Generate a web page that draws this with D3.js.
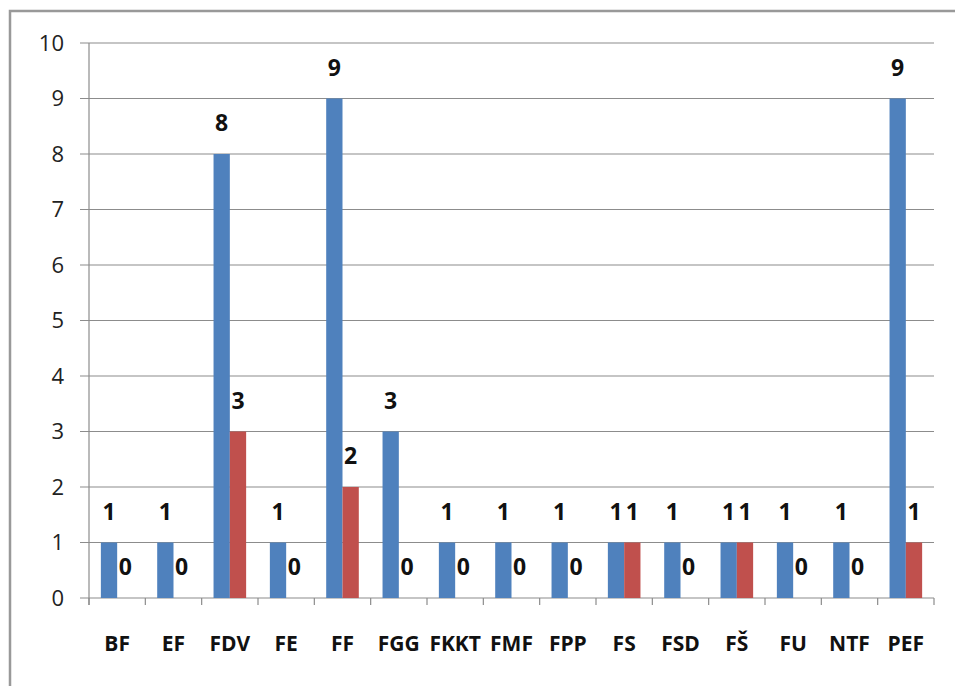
<!DOCTYPE html>
<html><head><meta charset="utf-8">
<script src="https://cdn.jsdelivr.net/npm/d3@7"></script>
<style>body{margin:0;background:#fff}</style>
</head><body>
<svg id="c" width="955" height="686"></svg>
<script>
const categories = ["BF","EF","FDV","FE","FF","FGG","FKKT","FMF","FPP","FS","FSD","FŠ","FU","NTF","PEF"];
const seriesA = [1,1,8,1,9,3,1,1,1,1,1,1,1,1,9];
const seriesB = [0,0,3,0,2,0,0,0,0,1,0,1,0,0,1];
const yTicks = [0,1,2,3,4,5,6,7,8,9,10];
const colors = ["#4F81BD","#C0504D"];

const svg = d3.select("#c");
const font = "'Open Sans', 'Liberation Sans', sans-serif";
// frame
svg.append("path").attr("d","M10,686 V11 H955").attr("fill","none").attr("stroke","#999").attr("stroke-width",2.5);

const m = {l:89, r:934, t:43, b:598};
const x = d3.scaleBand().domain(categories).range([m.l, m.r]).paddingInner(0).paddingOuter(0);
const y = d3.scaleLinear().domain([0,10]).range([m.b, m.t]);
const bw = 16.3;

// gridlines
svg.append("g").selectAll("line").data(yTicks).join("line")
  .attr("x1", m.l-9).attr("x2", m.r).attr("y1", d=>y(d)).attr("y2", d=>y(d))
  .attr("stroke","#8c8c8c").attr("stroke-width",1.2);
// y axis line
svg.append("line").attr("x1",m.l).attr("x2",m.l).attr("y1",m.t).attr("y2",m.b+7).attr("stroke","#8c8c8c").attr("stroke-width",1.2);
// x ticks
const bounds = categories.map(c=>x(c)).concat([m.r]);
svg.append("g").selectAll("line").data(bounds).join("line")
  .attr("x1",d=>d).attr("x2",d=>d).attr("y1",m.b).attr("y2",m.b+7)
  .attr("stroke","#8c8c8c").attr("stroke-width",1.2);
// y labels
svg.append("g").selectAll("text").data(yTicks).join("text")
  .attr("x", 64).attr("y", d=>y(d)).attr("dy","0.36em").attr("text-anchor","end")
  .attr("font-family",font).attr("font-size",22).attr("fill","#222").text(d=>d);
// x labels
svg.append("g").selectAll("text").data(categories).join("text")
  .attr("x", d=>x(d)+x.bandwidth()/2).attr("y", 651).attr("text-anchor","middle")
  .attr("font-family",font).attr("font-size",21).attr("font-weight","bold").attr("fill","#111").text(d=>d);

const series = [seriesA, seriesB];
series.forEach((s, si)=>{
  const g = svg.append("g");
  const off = (x.bandwidth()/2) - bw + si*bw;
  g.selectAll("rect").data(s).join("rect")
    .attr("x",(d,i)=>x(categories[i])+off).attr("width",bw)
    .attr("y",d=>y(d)).attr("height",d=>y(0)-y(d)).attr("fill",colors[si]);
  g.selectAll("text").data(s).join("text")
    .attr("x",(d,i)=>x(categories[i])+off+bw/2).attr("y",d=>y(d)-23)
    .attr("text-anchor","middle").attr("font-family",font).attr("font-size",23)
    .attr("font-weight","bold").attr("fill","#111").text(d=>d);
});
</script>
</body></html>
